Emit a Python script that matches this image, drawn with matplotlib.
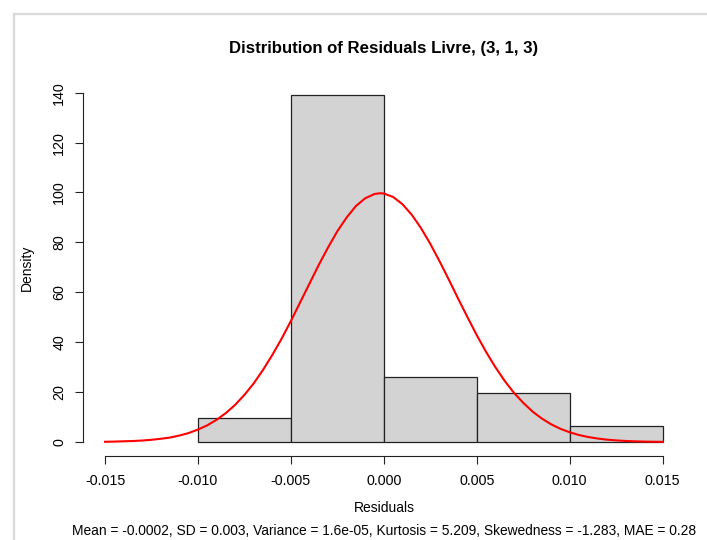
import matplotlib.pyplot as plt
from matplotlib.lines import Line2D

plt.rcParams["font.family"] = ["Liberation Sans", "DejaVu Sans"]

# histogram (density scale)
breaks = [-0.010, -0.005, 0.000, 0.005, 0.010, 0.015]
density = [9.6, 139.0, 26.0, 19.6, 6.4]

# red density curve
curve_x = [-0.0150, -0.0145, -0.0140, -0.0135, -0.0130, -0.0125, -0.0120,
           -0.0115, -0.0110, -0.0105, -0.0100, -0.0095, -0.0090, -0.0085,
           -0.0080, -0.0075, -0.0070, -0.0065, -0.0060, -0.0055, -0.0050,
           -0.0045, -0.0040, -0.0035, -0.0030, -0.0025, -0.0020, -0.0015,
           -0.0010, -0.0005, -0.0002, 0.0000, 0.0005, 0.0010, 0.0015, 0.0020,
           0.0025, 0.0030, 0.0035, 0.0040, 0.0045, 0.0050, 0.0055, 0.0060,
           0.0065, 0.0070, 0.0075, 0.0080, 0.0085, 0.0090, 0.0095, 0.0100,
           0.0105, 0.0110, 0.0115, 0.0120, 0.0125, 0.0130, 0.0135, 0.0140,
           0.0145, 0.0150]
curve_y = [0.1, 0.17, 0.3, 0.4, 0.6, 0.9, 1.3,
           1.8, 2.6, 3.6, 5.0, 6.7, 8.9, 11.6,
           14.9, 18.9, 23.5, 28.9, 34.9, 41.4, 48.5,
           56.0, 63.5, 71.0, 78.0, 84.5, 90.0, 94.6,
           97.7, 99.4, 99.7, 99.6, 98.2, 95.3, 91.1, 85.7,
           79.4, 72.4, 65.0, 57.4, 50.0, 42.8, 36.1, 30.0,
           24.5, 19.7, 15.7, 12.2, 9.4, 7.1, 5.3, 3.9,
           2.8, 2.0, 1.4, 0.95, 0.65, 0.43, 0.28, 0.18,
           0.12, 0.07]

xticks = [-0.015, -0.010, -0.005, 0.000, 0.005, 0.010, 0.015]
xticklabels = ["-0.015", "-0.010", "-0.005", "0.000", "0.005", "0.010", "0.015"]
yticks = [0, 20, 40, 60, 80, 100, 120, 140]

title = "Distribution of Residuals Livre, (3, 1, 3)"
stats_text = ("Mean = -0.0002, SD = 0.003, Variance = 1.6e-05, Kurtosis = 5.209, "
              "Skewedness = -1.283, MAE = 0.28")

W, H = 707, 540
fig = plt.figure(figsize=(W / 100, H / 100), dpi=100)
ax = fig.add_axes([82.7 / W, 1 - 456 / H, (685 - 82.7) / W, (456 - 78.7) / H])

widths = [breaks[i + 1] - breaks[i] for i in range(len(density))]
ax.bar(breaks[:-1], density, width=widths, align="edge",
       color="#d3d3d3", edgecolor="#222222", linewidth=0.9)
ax.plot(curve_x, curve_y, color="red", linewidth=1.5)

ax.set_xlim(-0.0162, 0.0162)
ax.set_ylim(-5.6, 145.6)

for s in ["top", "right"]:
    ax.spines[s].set_visible(False)
ax.spines["left"].set_bounds(0, 140)
ax.spines["bottom"].set_bounds(-0.015, 0.015)
for s in ["left", "bottom"]:
    ax.spines[s].set_linewidth(0.8)
    ax.spines[s].set_color("#222222")

ax.set_xticks(xticks)
ax.set_xticklabels(xticklabels)
ax.set_yticks(yticks)
ax.set_yticklabels([str(v) for v in yticks], rotation=90, va="center")
ax.tick_params(axis="both", length=5.8, width=0.8, color="#222222",
               labelsize=10.3)
ax.tick_params(axis="x", pad=7)
ax.tick_params(axis="y", pad=6)

fig.text(384 / W, 1 - 48 / H, title, ha="center", va="center",
         fontsize=12.1, fontweight="bold")
fig.text(384 / W, 1 - 508 / H, "Residuals", ha="center", va="center",
         fontsize=10.0)
fig.text(384 / W, 1 - 531 / H, stats_text, ha="center", va="center",
         fontsize=9.95)
fig.text(27 / W, 1 - 268 / H, "Density", ha="center", va="center",
         rotation=90, fontsize=10.0)

# light grey frame of the screenshot
fig.add_artist(Line2D([13.5 / W, 13.5 / W], [0, 1 - 13.5 / H],
                      transform=fig.transFigure, color="#d9d9d9", linewidth=1.6))
fig.add_artist(Line2D([13.5 / W, 1], [1 - 13.5 / H, 1 - 13.5 / H],
                      transform=fig.transFigure, color="#d9d9d9", linewidth=1.6))

fig.savefig("out.png", dpi=100)
